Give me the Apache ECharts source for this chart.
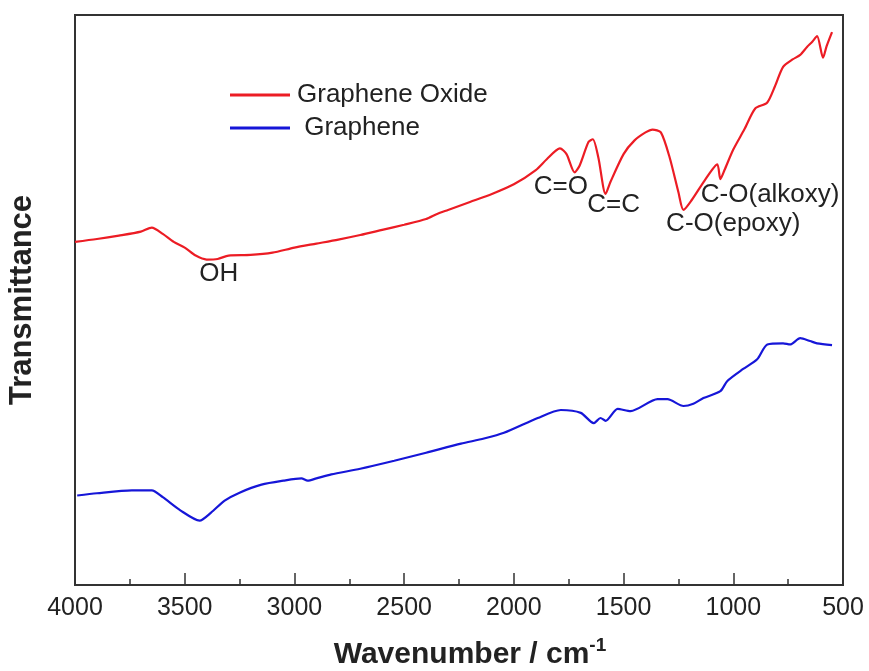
<!DOCTYPE html>
<html>
<head>
<meta charset="utf-8">
<script src="https://cdn.jsdelivr.net/npm/echarts@6/dist/echarts.min.js"></script>
<style>html,body{margin:0;padding:0;background:#fff}#c{width:869px;height:671px}</style>
</head>
<body>
<div id="c"></div>
<script>
// Wavenumber (cm^-1) and transmittance (a.u.)
const goWavenumber = [4000,3900,3800,3700,3650,3600,3550,3500,3450,3400,3350,3300,3200,3100,3000,2900,2800,2700,2600,2500,2400,2350,2300,2200,2100,2000,1900,1850,1790,1760,1723,1700,1660,1640,1615,1582,1560,1500,1450,1400,1368,1330,1290,1250,1227,1190,1130,1073,1059,1040,1000,950,900,846,810,773,730,695,664,640,618,591,575,550];
const goTransmittance = [60.2,60.7,61.3,62.0,62.7,61.6,60.2,59.2,57.8,57.1,57.2,57.8,57.9,58.3,59.2,59.9,60.6,61.4,62.3,63.2,64.2,65.1,65.8,67.2,68.6,70.3,72.8,74.7,76.6,75.6,72.4,73.6,77.7,78.2,75.0,68.6,70.7,75.6,78.0,79.4,79.9,79.4,75.0,68.9,65.8,67.5,71.0,73.8,71.2,72.8,76.4,79.9,83.6,84.6,87.5,90.9,92.2,93.0,94.4,95.3,96.3,92.5,94.5,97.0];

const grWavenumber = [3990,3900,3741,3650,3600,3520,3432,3380,3318,3250,3150,3050,2968,2940,2900,2832,2700,2545,2400,2241,2136,2045,1891,1786,1695,1636,1605,1582,1527,1468,1345,1300,1227,1182,1136,1059,1027,955,891,845,773,741,695,650,618,550];
const grTransmittance = [15.7,16.1,16.6,16.6,15.4,13.1,11.3,12.7,14.8,16.2,17.6,18.3,18.7,18.3,18.7,19.4,20.4,21.8,23.2,24.8,25.7,26.7,29.3,30.7,30.2,28.4,29.3,28.8,30.9,30.5,32.6,32.6,31.4,31.8,32.8,34.0,35.8,37.9,39.6,42.2,42.4,42.2,43.3,42.8,42.4,42.1];

const xTicks = [4000,3500,3000,2500,2000,1500,1000,500];

// Band assignments: label text and its anchor (wavenumber, a.u.)
const bandNames = ['OH','C=O','C=C','C-O(epoxy)','C-O(alkoxy)'];
const bandWavenumber = [3345,1786,1545,1000,832];
const bandLevel = [54.6,69.8,66.7,63.4,68.4];

const seriesNames = ['Graphene Oxide','Graphene'];

const zip = (a,b) => a.map((v,i) => [v,b[i]]);

const chart = echarts.init(document.getElementById('c'));
const FONT = '"Liberation Sans", Arial, sans-serif';
chart.setOption({
  animation: false,
  grid: {left: 75, right: 26, top: 15, bottom: 86, show: true, borderColor: '#333', borderWidth: 2,
    containLabel: false, outerBoundsMode: 'none'},
  legend: {
    orient: 'vertical', left: 225, top: 76, itemWidth: 60, itemHeight: 3, itemGap: 5,
    icon: 'rect',
    data: seriesNames,
    formatter: n => n === 'Graphene' ? ' ' + n : n,
    textStyle: {fontFamily: FONT, fontSize: 26, color: '#222', padding: [0,0,0,2], lineHeight: 28}
  },
  xAxis: {
    type: 'value', inverse: true, min: 500, max: 4000, interval: 500,
    name: 'Wavenumber / cm{s|-1}', nameLocation: 'middle', nameGap: 51,
    nameTextStyle: {fontFamily: FONT, fontSize: 30, fontWeight: 'bold', color: '#222', padding: [0,0,0,22],
      rich: {s: {fontFamily: FONT, fontSize: 19, fontWeight: 'bold', color: '#222', verticalAlign: 'top', padding: [0,0,18,0]}}},
    axisLine: {show: true, lineStyle: {color: '#333', width: 2}},
    axisTick: {show: true, inside: true, length: 12, lineStyle: {color: '#333', width: 1.5}},
    minorTick: {show: true, splitNumber: 2, length: 6, lineStyle: {color: '#333', width: 1.5}},
    axisLabel: {fontFamily: FONT, fontSize: 25, color: '#222', margin: 11,
      formatter: v => xTicks.includes(v) ? String(v) : ''},
    splitLine: {show: false}
  },
  yAxis: {
    type: 'value', min: 0, max: 100,
    name: 'Transmittance', nameLocation: 'middle', nameGap: 37,
    nameTextStyle: {fontFamily: FONT, fontSize: 31, fontWeight: 'bold', color: '#222'},
    axisLine: {show: true, lineStyle: {color: '#333', width: 2}},
    axisTick: {show: false}, axisLabel: {show: false}, splitLine: {show: false}
  },
  series: [
    {
      name: seriesNames[0], type: 'line', data: zip(goWavenumber, goTransmittance),
      showSymbol: false, symbol: 'none', smooth: 0.25,
      lineStyle: {color: '#ec1c24', width: 2.2}, itemStyle: {color: '#ec1c24'},
      markPoint: {
        symbol: 'circle', symbolSize: 0, silent: true,
        label: {show: true, position: 'inside', fontFamily: FONT, fontSize: 26, color: '#222', formatter: p => p.name},
        data: bandNames.map((n,i) => ({name: n, coord: [bandWavenumber[i], bandLevel[i]]}))
      }
    },
    {
      name: seriesNames[1], type: 'line', data: zip(grWavenumber, grTransmittance),
      showSymbol: false, symbol: 'none', smooth: 0.25,
      lineStyle: {color: '#1616d8', width: 2.2}, itemStyle: {color: '#1616d8'}
    }
  ]
});
</script>
</body>
</html>
